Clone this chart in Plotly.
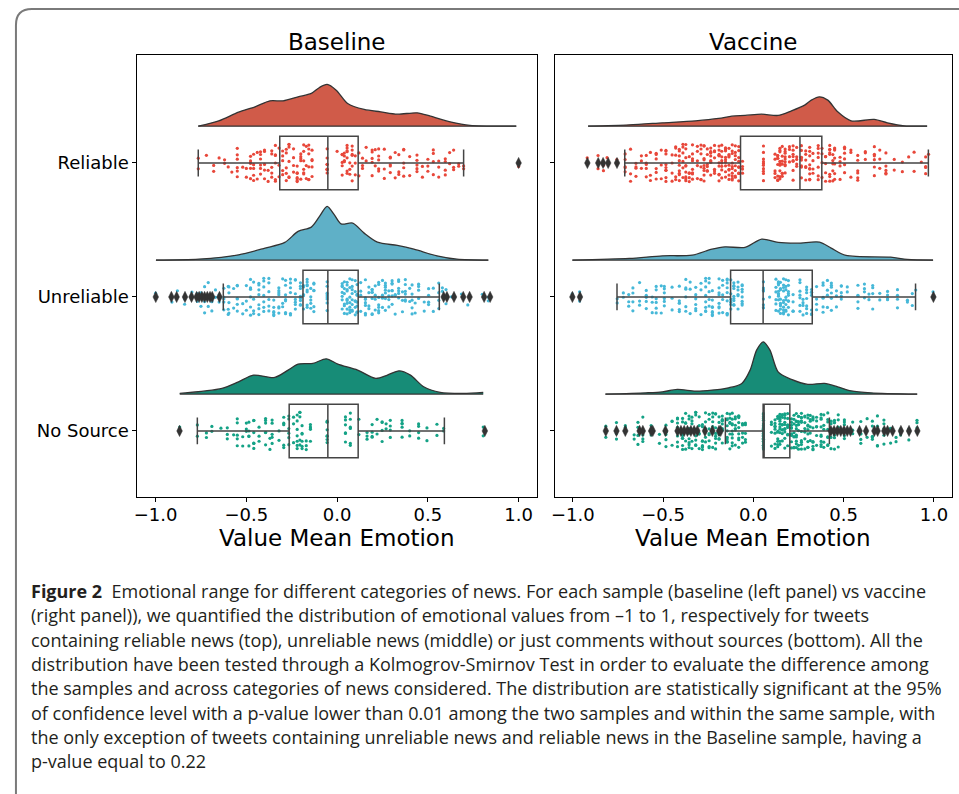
import numpy as np
import plotly.graph_objects as go

W, H = 959, 794

categories = ["Reliable", "Unreliable", "No Source"]
cat_pos = [2, 1, 0]
panels = ["Baseline", "Vaccine"]

# ---------- density curves (x value, density height) ----------
base_rel_kde_x = [-0.765, -0.652, -0.543, -0.452, -0.370, -0.297, -0.215, -0.142, -0.097, -0.055, -0.005, 0.058, 0.149, 0.240, 0.332, 0.441, 0.514, 0.623, 0.732, 0.987]
base_rel_kde_h = [0, 5.3, 14, 19.3, 25.3, 25.3, 29.3, 32.7, 38.7, 41.7, 36, 22.7, 16.7, 14.3, 12, 13.3, 10, 4.3, 0.7, 0]
base_unrel_kde_x = [-0.998, -0.761, -0.543, -0.397, -0.288, -0.215, -0.142, -0.097, -0.055, -0.015, 0.022, 0.086, 0.149, 0.222, 0.332, 0.423, 0.550, 0.660, 0.833]
base_unrel_kde_h = [0, 1, 5.3, 12, 17.7, 28.7, 33, 43.7, 53.7, 45.3, 36.3, 37, 27, 18, 14.7, 11, 4.3, 1, 0]
base_nos_kde_x = [-0.867, -0.634, -0.543, -0.461, -0.343, -0.270, -0.215, -0.133, -0.060, 0.004, 0.113, 0.213, 0.277, 0.341, 0.404, 0.477, 0.568, 0.696, 0.805]
base_nos_kde_h = [0.7, 5.7, 12.3, 19, 16.7, 24, 30, 30.7, 35.3, 30, 24, 15.7, 19, 23.3, 19, 7.3, 1.7, 0.7, 1.7]
vac_rel_kde_x = [-0.915, -0.687, -0.503, -0.320, -0.192, -0.119, -0.046, 0.046, 0.137, 0.211, 0.284, 0.321, 0.366, 0.412, 0.467, 0.541, 0.669, 0.742, 0.834, 0.962]
vac_rel_kde_h = [0, 1.3, 3.3, 5.3, 7.7, 10, 10.7, 12, 10.7, 15.3, 21, 26, 29.3, 26, 14.3, 5.3, 6.7, 3.3, 0.3, 0]
vac_unrel_kde_x = [-1.002, -0.687, -0.503, -0.339, -0.229, -0.156, -0.046, 0.046, 0.137, 0.247, 0.366, 0.431, 0.513, 0.760, 0.852, 0.995]
vac_unrel_kde_h = [0, 1.7, 4.3, 5, 11, 13.3, 12.7, 21, 17.7, 17, 18, 12, 4.7, 3, 0.7, 0]
vac_nos_kde_x = [-0.819, -0.595, -0.503, -0.421, -0.320, -0.229, -0.137, -0.064, -0.018, 0.018, 0.055, 0.092, 0.137, 0.211, 0.302, 0.394, 0.467, 0.541, 0.651, 0.907]
vac_nos_kde_h = [0, 1.3, 2.3, 4.7, 3, 4, 6.3, 10.7, 24, 44, 52.3, 44, 22.3, 14.7, 9.7, 10.7, 7.3, 3.3, 1.3, 0]

# ---------- box statistics: q1, median, q3, lower whisker, upper whisker ----------
base_rel_box = [-0.316, -0.051, 0.116, -0.765, 0.697]
base_unrel_box = [-0.188, -0.051, 0.116, -0.627, 0.563]
base_nos_box = [-0.264, -0.051, 0.116, -0.770, 0.591]
vac_rel_box = [-0.071, 0.258, 0.379, -0.712, 0.969]
vac_unrel_box = [-0.126, 0.054, 0.326, -0.755, 0.898]
vac_nos_box = [0.054, 0.054, 0.202, -0.155, 0.421]

# ---------- outliers ----------
base_rel_out = [1.0]
base_unrel_out = [-0.999, -0.913, -0.884, -0.838, -0.802, -0.774, -0.76, -0.745, -0.73, -0.715, -0.70, -0.688, -0.648,
                  0.587, 0.605, 0.644, 0.695, 0.73, 0.81, 0.843]
base_nos_out = [-0.868, 0.814]
vac_rel_out = [-0.919, -0.859, -0.832, -0.804, -0.755]
vac_unrel_out = [-1.002, -0.96, 0.997]
vac_nos_out = [-0.817, -0.758, -0.709, -0.630, -0.612, -0.566, -0.557, -0.487, -0.42, -0.401, -0.383, -0.365, -0.346,
               -0.328, -0.31, -0.268, -0.227, -0.19, -0.181,
               0.429, 0.447, 0.465, 0.484, 0.502, 0.520, 0.538, 0.588, 0.624, 0.67, 0.688, 0.725, 0.743, 0.771,
               0.817, 0.862, 0.908]

# ---------- individual observations (value, count) ----------
base_rel_pts = [(-0.765, 2), (-0.72, 1), (-0.68, 2), (-0.65, 1), (-0.62, 2), (-0.60, 1), (-0.58, 1), (-0.55, 6), (-0.52, 1),
                (-0.50, 2), (-0.477, 6), (-0.46, 5), (-0.44, 2), (-0.422, 6), (-0.40, 5), (-0.38, 2), (-0.36, 5), (-0.34, 6),
                (-0.32, 3), (-0.30, 5), (-0.28, 5), (-0.265, 6), (-0.24, 4), (-0.22, 7), (-0.20, 5), (-0.184, 6), (-0.17, 3),
                (-0.156, 6), (-0.138, 5), (-0.055, 8), (0.0, 1), (0.028, 5), (0.04, 4), (0.055, 7), (0.07, 3), (0.083, 6),
                (0.10, 3), (0.12, 2), (0.14, 3), (0.16, 2), (0.193, 5), (0.21, 2), (0.229, 5), (0.26, 3), (0.293, 5),
                (0.32, 2), (0.34, 3), (0.367, 5), (0.40, 2), (0.44, 5), (0.47, 2), (0.50, 3), (0.53, 4), (0.56, 3),
                (0.596, 4), (0.62, 2), (0.642, 3), (0.67, 2), (0.697, 2), (1.0, 2)]
base_unrel_pts = [(-1.0, 1), (-0.91, 1), (-0.88, 1), (-0.84, 2), (-0.80, 2), (-0.77, 2), (-0.75, 2), (-0.73, 3), (-0.71, 2),
                  (-0.69, 3), (-0.67, 2), (-0.65, 2), (-0.624, 5), (-0.60, 3), (-0.596, 4), (-0.57, 2), (-0.55, 6), (-0.52, 2),
                  (-0.50, 3), (-0.477, 7), (-0.46, 4), (-0.431, 7), (-0.404, 7), (-0.376, 6), (-0.349, 6), (-0.321, 7),
                  (-0.30, 3), (-0.284, 7), (-0.257, 6), (-0.23, 7), (-0.202, 8), (-0.185, 5), (-0.165, 8), (-0.145, 5),
                  (-0.128, 6), (-0.055, 8), (0.028, 7), (0.04, 6), (0.055, 9), (0.07, 7), (0.083, 8), (0.10, 6), (0.11, 7),
                  (0.13, 4), (0.156, 7), (0.175, 4), (0.193, 7), (0.21, 4), (0.229, 7), (0.25, 4), (0.266, 7), (0.285, 4),
                  (0.303, 7), (0.32, 3), (0.339, 6), (0.36, 3), (0.376, 6), (0.40, 2), (0.413, 5), (0.43, 2), (0.449, 4),
                  (0.48, 2), (0.504, 4), (0.53, 2), (0.56, 4), (0.58, 2), (0.60, 2), (0.63, 1), (0.685, 1), (0.72, 1),
                  (0.80, 1), (0.833, 2)]
base_nos_pts = [(-0.867, 1), (-0.77, 2), (-0.72, 2), (-0.69, 2), (-0.64, 1), (-0.605, 3), (-0.57, 1), (-0.55, 5), (-0.52, 2),
                (-0.50, 3), (-0.486, 5), (-0.459, 6), (-0.43, 3), (-0.394, 6), (-0.37, 2), (-0.358, 5), (-0.32, 2),
                (-0.294, 5), (-0.266, 6), (-0.24, 3), (-0.22, 7), (-0.205, 5), (-0.193, 6), (-0.17, 3), (-0.147, 5),
                (-0.055, 7), (0.046, 6), (0.073, 6), (0.12, 2), (0.165, 3), (0.193, 4), (0.22, 2), (0.248, 4), (0.27, 2),
                (0.293, 4), (0.358, 5), (0.40, 2), (0.449, 4), (0.495, 2), (0.55, 2), (0.587, 2), (0.805, 2)]
vac_rel_pts = [(-0.92, 1), (-0.86, 2), (-0.83, 2), (-0.81, 1), (-0.756, 2), (-0.71, 5), (-0.68, 3), (-0.65, 4), (-0.62, 3),
               (-0.593, 5), (-0.57, 3), (-0.538, 6), (-0.51, 3), (-0.484, 9), (-0.45, 4), (-0.43, 5), (-0.41, 9), (-0.39, 6),
               (-0.374, 9), (-0.355, 5), (-0.337, 8), (-0.31, 5), (-0.29, 6), (-0.273, 9), (-0.255, 6), (-0.236, 9),
               (-0.215, 7), (-0.19, 10), (-0.175, 8), (-0.154, 10), (-0.135, 9), (-0.117, 10), (-0.10, 8), (-0.081, 9),
               (-0.06, 4), (0.056, 10), (0.12, 5), (0.135, 8), (0.147, 9), (0.16, 7), (0.176, 9), (0.20, 4), (0.22, 8),
               (0.24, 5), (0.266, 8), (0.29, 6), (0.312, 9), (0.33, 4), (0.359, 7), (0.38, 4), (0.40, 5), (0.423, 8),
               (0.44, 5), (0.45, 7), (0.48, 4), (0.505, 6), (0.54, 3), (0.578, 6), (0.62, 3), (0.67, 6), (0.70, 3),
               (0.734, 5), (0.78, 2), (0.825, 2), (0.86, 1), (0.89, 2), (0.93, 1), (0.954, 4), (0.97, 1)]
vac_unrel_pts = [(-1.003, 1), (-0.962, 2), (-0.754, 2), (-0.72, 2), (-0.69, 3), (-0.667, 4), (-0.63, 3), (-0.593, 5),
                 (-0.56, 3), (-0.538, 6), (-0.51, 2), (-0.493, 6), (-0.45, 3), (-0.41, 6), (-0.374, 6), (-0.35, 3),
                 (-0.319, 6), (-0.29, 3), (-0.264, 8), (-0.245, 5), (-0.227, 8), (-0.19, 8), (-0.17, 5), (-0.145, 9),
                 (-0.125, 6), (-0.108, 9), (-0.085, 6), (-0.062, 8), (0.056, 9), (0.09, 1), (0.125, 6), (0.139, 10),
                 (0.15, 9), (0.167, 10), (0.18, 8), (0.194, 9), (0.22, 4), (0.258, 7), (0.275, 4), (0.295, 7), (0.322, 7),
                 (0.35, 4), (0.386, 6), (0.41, 4), (0.432, 6), (0.46, 3), (0.487, 5), (0.52, 2), (0.579, 5), (0.615, 4),
                 (0.64, 2), (0.661, 4), (0.70, 2), (0.743, 4), (0.798, 4), (0.853, 2), (0.88, 2), (0.899, 1), (0.995, 2)]
vac_nos_pts = [(-0.817, 2), (-0.758, 3), (-0.709, 3), (-0.66, 2), (-0.639, 4), (-0.612, 4), (-0.566, 4), (-0.52, 2),
               (-0.484, 6), (-0.45, 3), (-0.42, 8), (-0.392, 8), (-0.375, 6), (-0.356, 8), (-0.34, 5), (-0.319, 8),
               (-0.30, 5), (-0.282, 8), (-0.265, 5), (-0.245, 8), (-0.225, 5), (-0.209, 8), (-0.19, 6), (-0.172, 9),
               (-0.145, 9), (-0.13, 6), (-0.117, 9), (-0.10, 6), (-0.081, 9), (-0.06, 5), (-0.044, 5), (0.056, 40),
               (0.10, 4), (0.12, 8), (0.135, 8), (0.147, 10), (0.16, 8), (0.174, 10), (0.19, 8), (0.211, 10), (0.225, 8),
               (0.238, 10), (0.25, 8), (0.266, 10), (0.285, 8), (0.302, 9), (0.315, 6), (0.33, 9), (0.35, 6), (0.375, 9),
               (0.39, 5), (0.412, 8), (0.43, 5), (0.449, 7), (0.47, 4), (0.504, 6), (0.55, 3), (0.595, 5), (0.63, 2),
               (0.659, 5), (0.687, 4), (0.723, 5), (0.76, 3), (0.79, 2), (0.815, 3), (0.861, 2), (0.906, 4)]

x_ticks = [-1.0, -0.5, 0.0, 0.5, 1.0]
x_ticktext = ["\u22121.0", "\u22120.5", "0.0", "0.5", "1.0"]

caption_lines = [
    "<b>Figure 2</b>  Emotional range for different categories of news. For each sample (baseline (left panel) vs vaccine",
    "(right panel)), we quantified the distribution of emotional values from \u20131 to 1, respectively for tweets",
    "containing reliable news (top), unreliable news (middle) or just comments without sources (bottom). All the",
    "distribution have been tested through a Kolmogrov-Smirnov Test in order to evaluate the difference among",
    "the samples and across categories of news considered. The distribution are statistically significant at the 95%",
    "of confidence level with a p-value lower than 0.01 among the two samples and within the same sample, with",
    "the only exception of tweets containing unreliable news and reliable news in the Baseline sample, having a",
    "p-value equal to 0.22",
]

# ---------- styles ----------
point_colors = ["#E8473A", "#46B8D8", "#14A286"]
kde_colors = ["#D05B49", "#5FB0C7", "#178C77"]
EDGE = "#333333"
BOXLINE = "#444444"
KDE_OFFSET = 0.275
KDE_SCALE = 1 / 134.0
FONT = "DejaVu Sans"

data = {
    "Baseline": {
        "kde": [(base_rel_kde_x, base_rel_kde_h), (base_unrel_kde_x, base_unrel_kde_h), (base_nos_kde_x, base_nos_kde_h)],
        "box": [base_rel_box, base_unrel_box, base_nos_box],
        "out": [base_rel_out, base_unrel_out, base_nos_out],
        "pts": [base_rel_pts, base_unrel_pts, base_nos_pts],
    },
    "Vaccine": {
        "kde": [(vac_rel_kde_x, vac_rel_kde_h), (vac_unrel_kde_x, vac_unrel_kde_h), (vac_nos_kde_x, vac_nos_kde_h)],
        "box": [vac_rel_box, vac_unrel_box, vac_nos_box],
        "out": [vac_rel_out, vac_unrel_out, vac_nos_out],
        "pts": [vac_rel_pts, vac_unrel_pts, vac_nos_pts],
    },
}

fig = go.Figure()
axes = [("x", "y"), ("x2", "y2")]

for pi, panel in enumerate(panels):
    xa, ya = axes[pi]
    d = data[panel]
    for ci, cat in enumerate(categories):
        pos = cat_pos[ci]
        kx, kh = d["kde"][ci]
        base = pos + KDE_OFFSET
        fig.add_trace(go.Scatter(x=[kx[0], kx[-1]], y=[base, base], mode="lines",
                                 line=dict(color=EDGE, width=1.3), xaxis=xa, yaxis=ya,
                                 showlegend=False, hoverinfo="skip"))
        fig.add_trace(go.Scatter(x=kx, y=[base + h * KDE_SCALE for h in kh], mode="lines",
                                 line=dict(color=EDGE, width=1.3, shape="spline", smoothing=0.8),
                                 fill="tonexty", fillcolor=kde_colors[ci],
                                 xaxis=xa, yaxis=ya, showlegend=False, hoverinfo="skip"))
        vals = np.repeat([v for v, c in d["pts"][ci]], [c for v, c in d["pts"][ci]])
        fig.add_trace(go.Box(x=vals, y=[pos] * len(vals), orientation="h", boxpoints="all",
                             jitter=0.7, pointpos=0, width=0.4,
                             marker=dict(color=point_colors[ci], size=3.2),
                             line=dict(color="rgba(0,0,0,0)", width=0), fillcolor="rgba(0,0,0,0)",
                             xaxis=xa, yaxis=ya, showlegend=False, hoverinfo="x"))
        q1, med, q3, lo, hi = d["box"][ci]
        fig.add_trace(go.Box(y=[pos], q1=[q1], median=[med], q3=[q3], lowerfence=[lo], upperfence=[hi],
                             orientation="h", boxpoints=False, width=0.4, whiskerwidth=0.5,
                             line=dict(color=BOXLINE, width=1.5), fillcolor="rgba(0,0,0,0)",
                             xaxis=xa, yaxis=ya, showlegend=False))
        outs = d["out"][ci]
        fig.add_trace(go.Scatter(x=outs, y=[pos] * len(outs), mode="markers",
                                 marker=dict(symbol="diamond-tall", size=8, color=EDGE,
                                             line=dict(color=EDGE, width=0.5)),
                                 xaxis=xa, yaxis=ya, showlegend=False, hoverinfo="x"))

def px2x(px):
    return px / W

def px2y(py):
    return 1 - py / H

xdoms = [[px2x(134), px2x(535)], [px2x(553), px2x(952)]]
ydom = [px2y(497), px2y(55)]
axis_common = dict(range=[-1.1, 1.1], tickvals=x_ticks, ticktext=x_ticktext, ticks="outside", ticklen=4,
                   tickcolor="#000", tickfont=dict(family=FONT, size=18, color="#000"), ticklabelstandoff=-3,
                   showgrid=False, zeroline=False, showline=True, linecolor="#000", linewidth=1,
                   mirror=True, fixedrange=True)
yaxis_common = dict(range=[-0.493, 2.806], tickvals=cat_pos, ticktext=categories, ticks="outside", ticklen=4,
                    tickcolor="#000", tickfont=dict(family=FONT, size=18, color="#000"),
                    showgrid=False, zeroline=False, showline=True, linecolor="#000", linewidth=1,
                    mirror=True, fixedrange=True, domain=ydom)

fig.update_layout(
    width=W, height=H, margin=dict(l=0, r=0, t=0, b=0),
    paper_bgcolor="white", plot_bgcolor="white", boxmode="overlay",
    xaxis=dict(axis_common, domain=xdoms[0], anchor="y"),
    xaxis2=dict(axis_common, domain=xdoms[1], anchor="y2"),
    yaxis=dict(yaxis_common, anchor="x"),
    yaxis2=dict(yaxis_common, anchor="x2", showticklabels=False),
)

ann = []
for pi, panel in enumerate(panels):
    cx = (xdoms[pi][0] + xdoms[pi][1]) / 2
    ann.append(dict(text=panel, x=cx, y=px2y(42), xref="paper", yref="paper", xanchor="center", yanchor="middle",
                    showarrow=False, font=dict(family=FONT, size=23, color="#000")))
    ann.append(dict(text="Value Mean Emotion", x=cx, y=px2y(538), xref="paper", yref="paper", xanchor="center",
                    yanchor="middle", showarrow=False, font=dict(family=FONT, size=23, color="#000")))
for li, line in enumerate(caption_lines):
    ann.append(dict(text=line, x=px2x(25), y=px2y(591 + li * 24.3), xref="paper", yref="paper", xanchor="left",
                    yanchor="middle", showarrow=False, align="left",
                    font=dict(family="Open Sans", size=18.0, color="#231f20")))
fig.update_layout(annotations=ann)

border = (f"M {px2x(12)},{px2y(794)} L {px2x(12)},{px2y(25)} "
          f"Q {px2x(12)},{px2y(9)} {px2x(28)},{px2y(9)} L {px2x(959)},{px2y(9)}")
fig.add_shape(type="path", path=border, xref="paper", yref="paper", line=dict(color="#7a7a7a", width=2))

fig.write_html("out.html", config={"displayModeBar": False},
               post_script="document.body.style.margin='0';document.body.style.overflow='hidden';")
